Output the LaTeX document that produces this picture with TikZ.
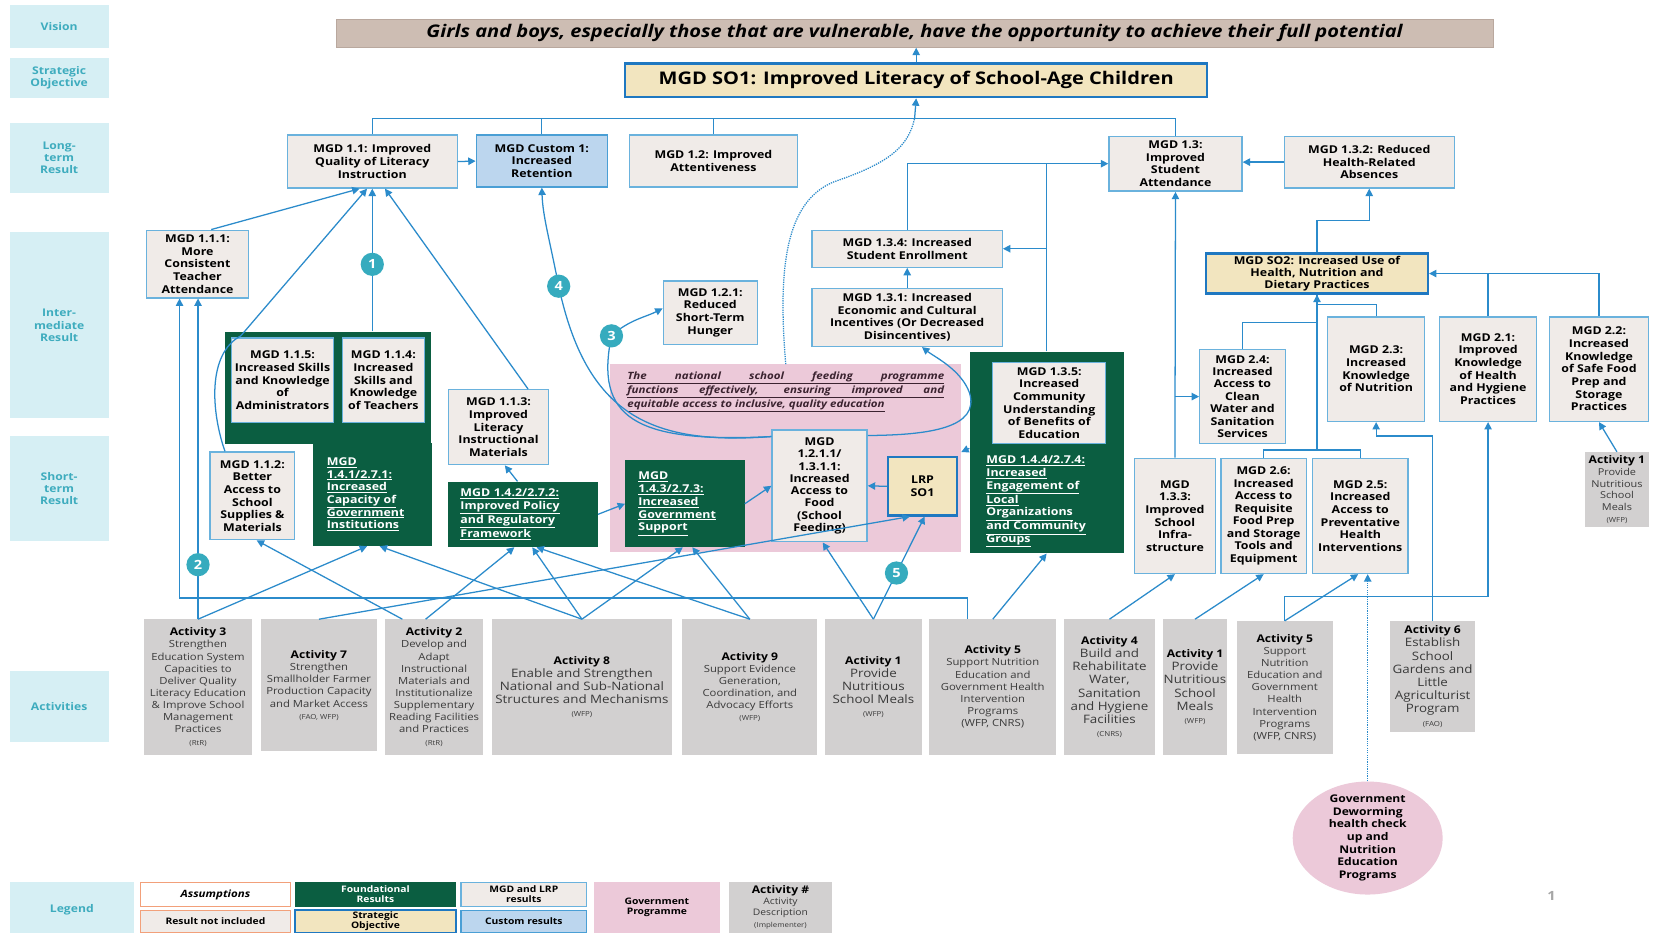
\documentclass[tikz,border=0pt]{standalone}
\usepackage{fontspec}
\setmainfont{Open Sans}[FakeStretch=1.15]
\usepackage{tikz}
\usetikzlibrary{arrows.meta,positioning,calc,shapes.geometric}
\definecolor{linec}{HTML}{2B8BCB}
\definecolor{resborder}{HTML}{6AB2DD}
\definecolor{resfill}{HTML}{F0EBE8}
\definecolor{custfill}{HTML}{BCD6EE}
\definecolor{custborder}{HTML}{4A9FD5}
\definecolor{objfill}{HTML}{F2E5BF}
\definecolor{objborder}{HTML}{1F78C1}
\definecolor{foundc}{HTML}{0B5E41}
\definecolor{govc}{HTML}{ECC9D9}
\definecolor{actc}{HTML}{D2D0D0}
\definecolor{acttext}{HTML}{3A3A3A}
\definecolor{labfill}{HTML}{D6EFF4}
\definecolor{labtext}{HTML}{3EACBE}
\definecolor{visfill}{HTML}{CDBDB3}
\definecolor{visborder}{HTML}{B9A89E}
\definecolor{numc}{HTML}{36ABBE}
\definecolor{assumc}{HTML}{F2A07A}
\definecolor{govtext}{HTML}{3B2330}
\newcommand{\acth}[1]{{\fontsize{10}{12}\selectfont\bfseries\color{black}#1}}
\newcommand{\actimp}[1]{{\fontsize{6.5}{8}\selectfont #1}}
\tikzset{sz/.style 2 args={minimum width=#1,minimum height=#2},lab/.style={fill=labfill,text=labtext,align=center,inner sep=0pt,font=\fontsize{10}{11.5}\selectfont\bfseries},res/.style={draw=resborder,line width=1.3pt,fill=resfill,align=center,inner sep=0pt,font=\fontsize{10.2}{12}\selectfont\bfseries},cust/.style={res,fill=custfill,draw=custborder},obj/.style={res,fill=objfill,draw=objborder,line width=2.2pt},found/.style={fill=foundc,text=white,align=left,inner sep=0pt,font=\fontsize{10.2}{12}\selectfont\bfseries},gov/.style={fill=govc,inner sep=0pt},act/.style={fill=actc,text=acttext,align=center,inner sep=0pt,font=\fontsize{9.3}{11.5}\selectfont},actbig/.style={act,font=\fontsize{11}{12.5}\selectfont},lgd/.style={inner sep=0pt,align=center,font=\fontsize{8.5}{9.5}\selectfont\bfseries},num/.style={circle,fill=numc,text=white,minimum size=22pt,inner sep=0pt,font=\fontsize{12}{12}\selectfont\bfseries},ln/.style={draw=linec,line width=1.2pt},arr/.style={ln,-{Triangle[length=7pt,width=7pt]}}}
\begin{document}
\begin{tikzpicture}[x=1pt,y=-1pt]
\useasboundingbox (0,0) rectangle (1568,883);
\fill[white] (0,0) rectangle (1568,883);
\foreach \y/\h/\id/\txt in {25/40/vis/Vision,74/38/sobj/Strategic\\Objective,149.5/67/ltr/Long-\\term\\Result,308/176/imr/Inter-\\mediate\\Result,462.5/99/str/Short-\\term\\Result,669/68/acts/Activities}
  \node[lab,sz={94}{\h}] (\id) at (56,\y) {\txt};
\node[lab,sz={118}{52}] (leg) at (68,861) {Legend};
\node[draw=visborder,fill=visfill,sz={1096}{27},inner sep=0pt,font=\fontsize{16.5}{18}\selectfont\bfseries\itshape] (vision) at (866,31.5) {Girls and boys, especially those that are vulnerable, have the opportunity to achieve their full potential};
\node[obj,sz={551}{32},font=\fontsize{16.5}{18}\selectfont\bfseries] (so1) at (867.5,76) {MGD SO1: Improved Literacy of School-Age Children};
\node[res,sz={161}{50}] (m11) at (352.5,153) {MGD 1.1: Improved\\Quality of Literacy\\Instruction};
\node[cust,sz={124}{49}] (c1) at (513,152.5) {MGD Custom 1:\\Increased\\Retention};
\node[res,sz={159}{49}] (m12) at (675.5,152.5) {MGD 1.2: Improved\\Attentiveness};
\node[res,sz={126}{52}] (m13) at (1113,155) {MGD 1.3:\\Improved\\Student\\Attendance};
\node[res,sz={161}{49}] (m132) at (1296.5,153.5) {MGD 1.3.2: Reduced\\Health-Related\\Absences};
\node[res,sz={96}{64}] (m111) at (187,250) {MGD 1.1.1:\\More\\Consistent\\Teacher\\Attendance};
\node[found,sz={195}{106}] (g141top) at (310.5,367) {};
\node[found,sz={113}{98},text width=86pt] (g141) at (352.5,468) {\underline{MGD}\\\underline{1.4.1/2.7.1:}\\\underline{Increased}\\\underline{Capacity of}\\\underline{Government}\\\underline{Institutions}};
\node[res,sz={97}{80}] (m115) at (267.5,360) {MGD 1.1.5:\\Increased Skills\\and Knowledge\\of\\Administrators};
\node[res,sz={78}{80}] (m114) at (363,360) {MGD 1.1.4:\\Increased\\Skills and\\Knowledge\\of Teachers};
\node[res,sz={95}{71}] (m113) at (472,404.5) {MGD 1.1.3:\\Improved\\Literacy\\Instructional\\Materials};
\node[res,sz={80}{83}] (m112) at (239,469.5) {MGD 1.1.2:\\Better\\Access to\\School\\Supplies \&\\Materials};
\node[found,sz={142}{62},text width=118pt] (g142) at (495,487) {\underline{MGD 1.4.2/2.7.2:}\\\underline{Improved Policy}\\\underline{and Regulatory}\\\underline{Framework}};
\node[gov,sz={332}{178}] (gov) at (744,434) {};
\node[inner sep=0pt,align=left,text=govtext,font=\fontsize{9.5}{13}\selectfont\bfseries\itshape] (govtxt) at (744,371) {\underline{\makebox[300pt][s]{The national school feeding programme}}\\\underline{\makebox[300pt][s]{functions effectively, ensuring improved and}}\\\underline{equitable access to inclusive, quality education}};
\node[found,sz={113}{82},text width=88pt] (g143) at (648.5,477) {\underline{MGD}\\\underline{1.4.3/2.7.3:}\\\underline{Increased}\\\underline{Government}\\\underline{Support}};
\node[res,sz={90}{106},font=\fontsize{10.2}{11.6}\selectfont\bfseries] (m1211) at (776,460) {MGD\\1.2.1.1/\\1.3.1.1:\\Increased\\Access to\\Food\\(School\\Feeding)};
\node[obj,sz={65}{55}] (lrp) at (873.5,460.5) {LRP\\SO1};
\node[res,sz={89}{60}] (m121) at (672.5,296) {MGD 1.2.1:\\Reduced\\Short-Term\\Hunger};
\node[res,sz={180}{35}] (m134) at (859,235.5) {MGD 1.3.4: Increased\\Student Enrollment};
\node[res,sz={180}{55}] (m131) at (859,300.5) {MGD 1.3.1: Increased\\Economic and Cultural\\Incentives (Or Decreased\\Disincentives)};
\node[found,sz={146}{191}] (blk135) at (991,428.5) {};
\node[res,sz={107}{77}] (m135) at (993.5,381.5) {MGD 1.3.5:\\Increased\\Community\\Understanding\\of Benefits of\\Education};
\node[found,fill=none,text width=112pt] (g144) at (990,475) {\underline{MGD 1.4.4/2.7.4:}\\\underline{Increased}\\\underline{Engagement of}\\\underline{Local}\\\underline{Organizations}\\\underline{and Community}\\\underline{Groups}};
\node[res,sz={77}{109}] (m133) at (1112.5,488.5) {MGD\\1.3.3:\\Improved\\School\\Infra-\\structure};
\node[res,sz={81}{89},font=\fontsize{10.2}{11.8}\selectfont\bfseries] (m24) at (1176.5,375.5) {MGD 2.4:\\Increased\\Access to\\Clean\\Water and\\Sanitation\\Services};
\node[obj,sz={210}{38},font=\fontsize{10.2}{11.5}\selectfont\bfseries] (so2) at (1247,259) {MGD SO2: Increased Use of\\Health, Nutrition and\\Dietary Practices};
\node[res,sz={92}{99}] (m23) at (1303,349.5) {MGD 2.3:\\Increased\\Knowledge\\of Nutrition};
\node[res,sz={92}{99}] (m21) at (1409,349.5) {MGD 2.1:\\Improved\\Knowledge\\of Health\\and Hygiene\\Practices};
\node[res,sz={94}{99}] (m22) at (1514,349.5) {MGD 2.2:\\Increased\\Knowledge\\of Safe Food\\Prep and\\Storage\\Practices};
\node[res,sz={81}{109},font=\fontsize{10.2}{11.8}\selectfont\bfseries] (m26) at (1196.5,488.5) {MGD 2.6:\\Increased\\Access to\\Requisite\\Food Prep\\and Storage\\Tools and\\Equipment};
\node[res,sz={90}{109}] (m25) at (1288,488.5) {MGD 2.5:\\Increased\\Access to\\Preventative\\Health\\Interventions};
\node[act,sz={60}{71},font=\fontsize{9}{11}\selectfont] (act1c) at (1531,463.5) {\acth{Activity 1}\\Provide\\Nutritious\\School\\Meals\\\actimp{(WFP)}};
\node[ellipse,fill=govc,sz={142}{107}] (dew) at (1295,793.5) {};
\node[align=center,inner sep=0pt,font=\fontsize{10}{12}\selectfont\bfseries] (dewtxt) at (dew) {Government\\Deworming\\health check\\up and\\Nutrition\\Education\\Programs};
\node[act,sz={103}{128}] (act3) at (187.5,650.5) {\acth{Activity 3}\\Strengthen\\Education System\\Capacities to\\Deliver Quality\\Literacy Education\\\& Improve School\\Management\\Practices\\\actimp{(RtR)}};
\node[act,sz={110}{125}] (act7) at (302,649) {\acth{Activity 7}\\Strengthen\\Smallholder Farmer\\Production Capacity\\and Market Access\\\actimp{(FAO, WFP)}};
\node[act,sz={92}{128}] (act2) at (411,650.5) {\acth{Activity 2}\\Develop and\\Adapt\\Instructional\\Materials and\\Institutionalize\\Supplementary\\Reading Facilities\\and Practices\\\actimp{(RtR)}};
\node[actbig,sz={170}{128}] (act8) at (551,650.5) {\acth{Activity 8}\\Enable and Strengthen\\National and Sub-National\\Structures and Mechanisms\\\actimp{(WFP)}};
\node[act,sz={128}{128}] (act9) at (710,650.5) {\acth{Activity 9}\\Support Evidence\\Generation,\\Coordination, and\\Advocacy Efforts\\\actimp{(WFP)}};
\node[actbig,sz={92}{128}] (act1) at (827,650.5) {\acth{Activity 1}\\Provide\\Nutritious\\School Meals\\\actimp{(WFP)}};
\node[act,sz={120}{128}] (act5) at (940,650.5) {\acth{Activity 5}\\Support Nutrition\\Education and\\Government Health\\Intervention\\Programs\\(WFP, CNRS)};
\node[actbig,sz={87}{128}] (act4) at (1050.5,650.5) {\acth{Activity 4}\\Build and\\Rehabilitate\\Water,\\Sanitation\\and Hygiene\\Facilities\\\actimp{(CNRS)}};
\node[actbig,sz={61}{128}] (act1b) at (1131.5,650.5) {\acth{Activity 1}\\Provide\\Nutritious\\School\\Meals\\\actimp{(WFP)}};
\node[act,sz={91}{126}] (act5b) at (1216.5,651) {\acth{Activity 5}\\Support\\Nutrition\\Education and\\Government\\Health\\Intervention\\Programs\\(WFP, CNRS)};
\node[actbig,sz={81}{105}] (act6) at (1356.5,640.5) {\acth{Activity 6}\\Establish\\School\\Gardens and\\Little\\Agriculturist\\Program\\\actimp{(FAO)}};
\coordinate (bus) at (866,112);
\coordinate (hub) at (1247,426);
\coordinate (p3) at (579,318);
\coordinate (p4) at (529,271);
\draw[arr] (so1.north) -- (so1.north |- vision.south);
\draw[ln] (m11.north) |- (bus) -| (m13.north);
\draw[ln] (c1.north) -- (c1.north |- bus);
\draw[ln] (m12.north) -- (m12.north |- bus);
\draw[arr] (bus) -- (so1.south);
\draw[ln,densely dotted] (gov.north) .. controls (736,250) and (745,190) .. (790,172) .. controls (840,155) and (860,140) .. (bus);
\draw[arr] (m11.east) -- (c1.west);
\draw[arr] (m132.west) -- (m132.west -| m13.east);
\draw[arr] (m134.north) |- (m13.west);
\draw[ln] (blk135.north) -- (blk135.north |- m13.west);
\draw[arr] (blk135.north |- m134.east) -- (m134.east);
\draw[arr] (m131.north) -- (m134.south);
\draw[arr] (m133.north) -- (m13.south);
\draw[arr] (m133.north |- m24.west) -- (m24.west);
\draw[arr] (hub) -- (so2.south);
\draw[ln] (m26.north) |- (hub) -| (m25.north);
\draw[ln] (m24.north) -- ++(0,-25) -| (so2.south);
\draw[ln] (m23.north) -- ++(0,-11) -| (so2.south);
\draw[arr] (so2.north) -- ++(0,-30) -| (m132.south);
\draw[arr] (m22.north) |- (so2.east);
\draw[ln] (m21.north) -- (m21.north |- so2.east);
\draw[arr] (act1c.north) -- (m22.south);
\draw[arr] (act6.north) -- ++(0,-175) -| (m23.south);
\draw[arr] (act5b.north) -- ++(0,-23) -| (m21.south);
\draw[arr] (act5b.north) -- ([xshift=-2pt]m25.south);
\draw[arr,densely dotted] (dew.north) -- (dew.north |- m25.south);
\draw[arr] (act1b.north) -- (m26.south);
\draw[arr] (act4.north) -- (m133.south);
\draw[arr] (act5.north) -- (blk135.south);
\draw[arr] ([xshift=-24pt]act5.north) -- ++(0,-20) -| ([xshift=-17pt]m111.south);
\draw[arr] (act3.north) -- node[num,pos=.17] (n2) {2} (act3.north |- m111.south);
\draw[arr] (act3.north) -- ([xshift=-5pt]g141.south);
\draw[arr] (act7.north) -- ([xshift=-12pt]lrp.south);
\draw[arr] ([xshift=-30pt]act2.north) -- ([xshift=4pt]m112.south);
\draw[arr] ([xshift=-8pt]act2.north) -- ([xshift=-8pt]g142.south);
\draw[arr] (act8.north) -- ([xshift=7pt]g141.south);
\draw[arr] (act8.north) -- ([xshift=9pt]g142.south);
\draw[arr] (act8.north) -- ([xshift=-2pt]g143.south);
\draw[arr] (act9.north) -- ([xshift=13pt]g142.south);
\draw[arr] (act9.north) -- ([xshift=7pt]g143.south);
\draw[arr] (act1.north) -- ([xshift=3pt]m1211.south);
\draw[arr] (act1.north) -- node[num,pos=.45] (n5) {5} ([xshift=2pt]lrp.south);
\draw[arr] (lrp.west) -- (m1211.east);
\draw[arr] (g143.east) -- (m1211.west);
\draw[arr] (g142.east) -- (g143.west);
\draw[arr] ([xshift=-5pt]g142.north) -- ([xshift=6pt]m113.south);
\draw[arr] ([xshift=28pt]m113.north) -- ([xshift=12pt]m11.south);
\draw[arr] (m11.south |- g141top.north) -- node[num,pos=.47] (n1) {1} (m11.south);
\draw[arr] ([xshift=13pt]m111.north) -- ([xshift=-12pt]m11.south);
\draw[arr] ([xshift=-26pt]m112.north) .. controls (200,390) and (196,335) .. (228,318) -- ([xshift=-5pt]m11.south);
\draw[arr] ([yshift=-7pt]m1211.north west) .. controls (615,422) and (555,392) .. (p4) .. controls (520,225) and (514,205) .. (c1.south);
\draw[arr] ([yshift=-7pt]m1211.north west) .. controls (600,420) and (563,395) .. (p3) .. controls (595,303) and (612,300) .. ([yshift=4pt]m121.west);
\draw[arr] ([yshift=-6pt]m1211.north east) .. controls (880,412) and (928,405) .. (918,372) .. controls (910,350) and (885,338) .. ([xshift=14pt]m131.south);
\draw[arr] ([yshift=4pt]blk135.west) -- ([yshift=6pt]gov.east);
\node[num] (n3) at (p3) {3};
\node[num] (n4) at (p4) {4};
\node[lgd,draw=assumc,line width=1.2pt,fill=white,sz={142}{23},font=\fontsize{9.5}{11}\selectfont\bfseries\itshape] (lgass) at (204,847) {Assumptions};
\node[lgd,draw=assumc,line width=1.2pt,fill=resfill,sz={142}{21}] (lgnot) at (204,872.5) {Result not included};
\node[lgd,fill=foundc,text=white,sz={153}{23}] (lgfound) at (355.5,847) {Foundational\\Results};
\node[lgd,draw=objborder,line width=2pt,fill=objfill,sz={153}{21}] (lgobj) at (355.5,872.5) {Strategic\\Objective};
\node[lgd,draw=resborder,line width=1.3pt,fill=resfill,sz={119}{23}] (lgres) at (496,847) {MGD and LRP\\results};
\node[lgd,draw=custborder,line width=1.3pt,fill=custfill,sz={119}{21}] (lgcust) at (496,872.5) {Custom results};
\node[lgd,fill=govc,sz={120}{48}] (lggov) at (622,859) {Government\\Programme};
\node[act,sz={98}{48},font=\fontsize{8.5}{10.5}\selectfont] (lgact) at (739,859) {\acth{Activity \#}\\Activity\\Description\\\actimp{(Implementer)}};
\node[text=gray!70,font=\fontsize{12}{12}\selectfont\bfseries] (pgno) at (1469,848) {1};
\end{tikzpicture}
\end{document}
